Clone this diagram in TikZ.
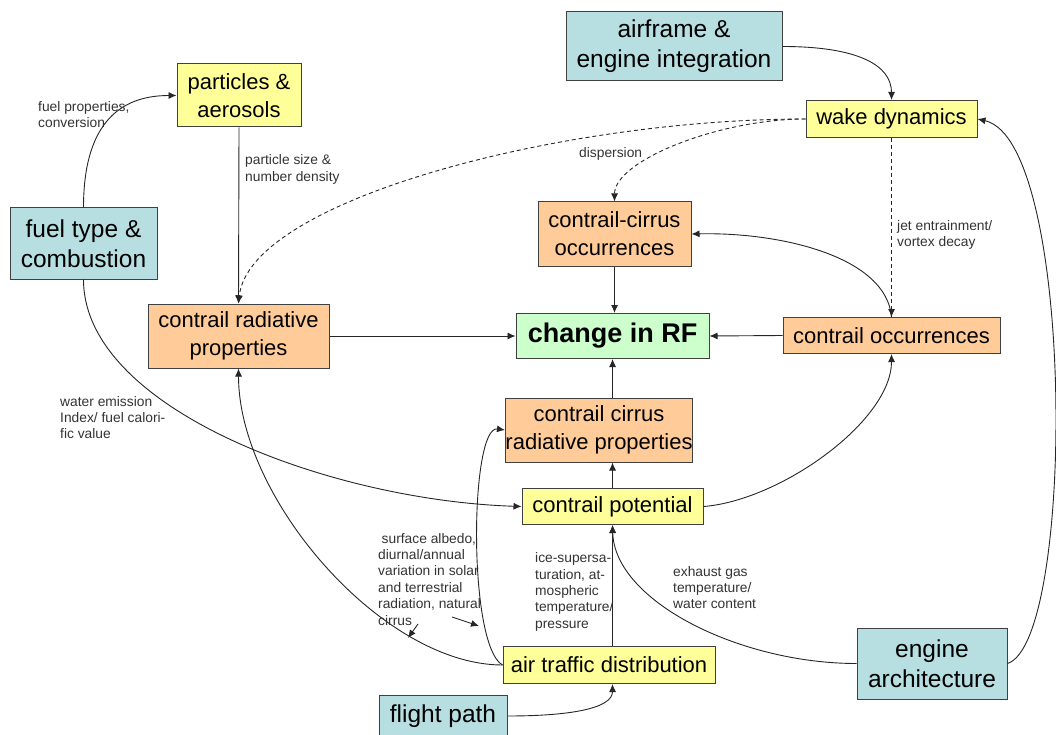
\documentclass[tikz,border=0pt]{standalone}
\usepackage{fontspec}
\setmainfont{Liberation Sans}
\usetikzlibrary{arrows.meta,calc}
\definecolor{bluebox}{HTML}{B7DFE2}
\definecolor{yelbox}{HTML}{FFFF99}
\definecolor{orabox}{HTML}{FFCC99}
\definecolor{grnbox}{HTML}{CCFFCC}
\definecolor{edgegray}{HTML}{404040}
\definecolor{labgray}{HTML}{333333}
\tikzset{
  box/.style={draw=edgegray, line width=1pt, inner sep=0pt, align=center, text=black},
  bluebx/.style={box, fill=bluebox, font=\fontsize{24.5}{30}\selectfont},
  yelbx/.style={box, fill=yelbox, font=\fontsize{22}{28}\selectfont},
  orabx/.style={box, fill=orabox, font=\fontsize{22}{28}\selectfont},
  grnbx/.style={box, fill=grnbox, font=\fontsize{27}{32}\selectfont\bfseries},
  arr/.style={draw=black!85, line width=0.9pt, -{Latex[length=8pt,width=7pt]}},
  darr/.style={arr, dash pattern=on 4pt off 3pt},
  lab/.style={anchor=base west, inner sep=0pt, align=left, text=labgray, font=\fontsize{13.8}{16.4}\selectfont},
}
\begin{document}
\begin{tikzpicture}[x=1pt,y=-1pt]
\useasboundingbox (0,0) rectangle (1056,735);
% boxes
\node[bluebx, minimum width=216pt, minimum height=69pt] (airf) at (674,46.5) {airframe \&\\engine integration};
\node[yelbx, minimum width=124pt, minimum height=63pt] (part) at (239,95.5) {particles \&\\aerosols};
\node[yelbx, minimum width=171pt, minimum height=37pt] (wake) at (891.5,119) {wake dynamics};
\node[bluebx, minimum width=147pt, minimum height=71pt] (fuel) at (83.5,243.5) {fuel type \&\\combustion};
\node[orabx, minimum width=153pt, minimum height=64pt] (cco) at (614.5,234) {contrail-cirrus\\occurrences};
\node[orabx, minimum width=181pt, minimum height=64pt] (crp) at (238.5,336) {contrail radiative\\properties};
\node[grnbx, minimum width=193pt, minimum height=45pt] (rf) at (612.5,336) {change in RF};
\node[orabx, minimum width=217pt, minimum height=36pt] (co) at (891.5,335.5) {contrail occurrences};
\node[orabx, minimum width=180pt, minimum height=64pt] (ccrp) at (599,430) {contrail cirrus\\radiative properties};
\node[yelbx, minimum width=181pt, minimum height=36pt] (cp) at (612.5,506.5) {contrail potential};
\node[yelbx, minimum width=212pt, minimum height=37pt] (atd) at (609,665) {air traffic distribution};
\node[bluebx, minimum width=128pt, minimum height=41pt] (fp) at (443,716) {flight path};
\node[bluebx, minimum width=150pt, minimum height=71pt] (ea) at (932,663.5) {engine\\architecture};
% connectors
\draw[arr] (fuel.north) .. controls +(0,-80) and +(-60,0) .. (part.west);
\draw[arr] (part.south) -- (crp.north);
\draw[darr] (wake.west) .. controls +(-246,0) and +(11,-103) .. (crp.north);
\draw[darr] (wake.west) .. controls +(-86,0) and +(0,-41) .. (cco.north);
\draw[arr] (airf.east) .. controls +(75,0) and +(0,-35) .. (wake.north);
\draw[darr] (wake.south) -- (co.north);
\draw[arr] (ea.east) .. controls +(68,-22) and +(98,22) .. (wake.east);
\draw[arr] (cco.south) -- (cco.south |- rf.north);
\draw[arr] (crp.east) -- (rf.west);
\draw[arr] (co.west) -- (rf.east);
\draw[arr] (co.north) .. controls +(-5,-60) and +(90,-2) .. (cco.east);
\draw[arr] (ccrp.north -| rf.south) -- (rf.south);
\draw[arr] (cp.north) -- (cp.north |- ccrp.south);
\draw[arr] (cp.east) .. controls +(77,-6) and +(0,67) .. (co.south);
\draw[arr] (fuel.south) .. controls +(0,130) and +(-190,-6) .. (cp.west);
\draw[arr] (atd.west) .. controls +(-120,0) and +(0,130) .. (crp.south);
\draw[arr] (atd.west) .. controls +(-35,-20) and +(-35,-5) .. (ccrp.west);
\draw[arr] (cp.south |- atd.north) -- (cp.south);
\draw[arr] (ea.west) .. controls +(-117,0) and +(2,76) .. (cp.south);
\draw[arr] (fp.east) .. controls +(60,0) and +(0,25) .. (cp.south |- atd.south);
% small pointer arrows
\coordinate (s1a) at (418,624);
\coordinate (s1b) at (408,638);
\coordinate (s2a) at (452,617);
\coordinate (s2b) at (479,626);
\draw[arr] (s1a) -- (s1b);
\draw[arr] (s2a) -- (s2b);
% labels (anchored at the baseline of their last line)
\node[lab] (l1) at (38,127.9) {fuel properties,\\conversion};
\node[lab] (l2) at (245,181.4) {particle size \&\\number density};
\node[lab] (l3) at (579,157.5) {dispersion};
\node[lab] (l4) at (897,246.9) {jet entrainment/\\vortex decay};
\node[lab] (l5) at (60,438.8) {water emission\\Index/ fuel calori-\\fic value};
\node[lab] (l6) at (378,625) {\hspace{3.5pt}surface albedo,\\diurnal/annual\\variation in solar\\and terrestrial\\radiation, natural\\cirrus};
\node[lab] (l7) at (535,628.3) {ice-supersa-\\turation, at-\\mospheric\\temperature/\\pressure};
\node[lab] (l8) at (673,608.8) {exhaust gas\\temperature/\\water content};
\end{tikzpicture}
\end{document}
